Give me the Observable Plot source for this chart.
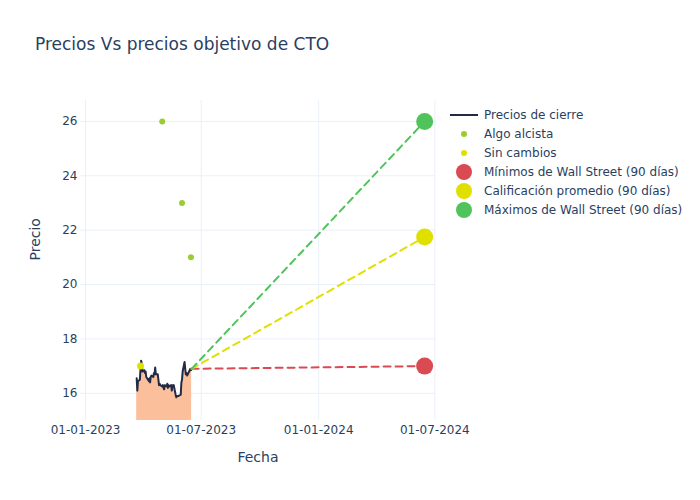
<!DOCTYPE html>
<html>
<head>
<meta charset="utf-8">
<script src="https://cdn.jsdelivr.net/npm/d3@7"></script>
<script src="https://cdn.jsdelivr.net/npm/@observablehq/plot@0.6"></script>
<style>
  html, body { margin: 0; padding: 0; background: #fff; }
  body { width: 700px; height: 500px; overflow: hidden; font-family: "DejaVu Sans", Verdana, sans-serif; color: #2a3f5f; }
  #wrap { position: relative; width: 700px; height: 500px; }
  #title { position: absolute; left: 35px; top: 34px; font-size: 17px; color: #2a3f5f; white-space: nowrap; }
  #legend { position: absolute; left: 450px; top: 105px; font-size: 12px; color: #2a3f5f; }
  .item { height: 19px; display: flex; align-items: center; white-space: nowrap; }
  .sym { width: 28px; height: 19px; margin-right: 6px; display: flex; align-items: center; justify-content: center; }
  .dot { border-radius: 50%; }
</style>
</head>
<body>
<div id="wrap">
  <div id="title">Precios Vs precios objetivo de CTO</div>
  <div id="chart"></div>
  <div id="legend"></div>
</div>
<script>
// ---- Data ----
const priceDates = [
  "2023-03-22","2023-03-23","2023-03-24","2023-03-27","2023-03-28","2023-03-29","2023-03-30","2023-03-31",
  "2023-04-03","2023-04-04","2023-04-05","2023-04-06","2023-04-10","2023-04-11","2023-04-12","2023-04-13","2023-04-14",
  "2023-04-17","2023-04-18","2023-04-19","2023-04-20","2023-04-21","2023-04-24","2023-04-25","2023-04-26","2023-04-27","2023-04-28",
  "2023-05-01","2023-05-02","2023-05-03","2023-05-04","2023-05-05","2023-05-08","2023-05-09","2023-05-10","2023-05-11","2023-05-12",
  "2023-05-15","2023-05-16","2023-05-17","2023-05-18","2023-05-19","2023-05-22","2023-05-23","2023-05-24","2023-05-25","2023-05-26",
  "2023-05-30","2023-05-31","2023-06-01","2023-06-02","2023-06-05","2023-06-06","2023-06-07","2023-06-08","2023-06-09",
  "2023-06-12","2023-06-13","2023-06-14","2023-06-15","2023-06-16"
];
const priceClose = [
  16.55,16.10,16.45,16.50,16.90,17.20,17.10,16.80,
  16.85,16.75,16.80,16.60,16.45,16.55,16.40,16.60,16.65,
  16.60,16.75,16.70,16.95,16.70,16.70,16.50,16.30,16.35,16.30,
  16.25,16.30,16.20,16.15,16.30,16.25,16.35,16.20,16.30,16.25,
  16.30,16.10,16.30,16.25,16.30,15.95,15.85,15.90,15.90,15.90,
  15.95,16.40,16.50,16.80,17.15,16.90,16.70,16.75,16.65,
  16.80,16.85,16.90,16.85,16.90
];
const alcistaDates = ["2023-05-01","2023-06-01","2023-06-15"];
const alcistaValues = [26.0, 23.0, 21.0];
const sinCambiosDates = ["2023-03-28"];
const sinCambiosValues = [17.0];
const targetDate = "2024-06-15";
const targetNames = ["Mínimos de Wall Street (90 días)", "Calificación promedio (90 días)", "Máximos de Wall Street (90 días)"];
const targetValues = [17.0, 21.75, 26.0];
const targetColors = ["#d94a52", "#dfe000", "#50c45a"];
const xTicks = ["2023-01-01","2023-07-01","2024-01-01","2024-07-01"];
const yTicks = [16, 18, 20, 22, 24, 26];
const xDomain = ["2022-12-24","2024-07-02"];
const yDomain = [15.0, 26.77];

// ---- Build tables ----
const parse = d3.utcParse("%Y-%m-%d");
const prices = priceDates.map((d, i) => ({date: parse(d), close: priceClose[i]}));
const alcista = alcistaDates.map((d, i) => ({date: parse(d), value: alcistaValues[i]}));
const sinCambios = sinCambiosDates.map((d, i) => ({date: parse(d), value: sinCambiosValues[i]}));
const last = prices[prices.length - 1];
const targets = targetValues.map((v, i) => ({name: targetNames[i], date: parse(targetDate), value: v, color: targetColors[i]}));
const segments = targets.flatMap(t => [
  {name: t.name, date: last.date, value: last.close, color: t.color},
  {name: t.name, date: t.date, value: t.value, color: t.color}
]);

const font = "DejaVu Sans, Verdana, sans-serif";
const chart = Plot.plot({
  width: 700,
  height: 500,
  marginLeft: 80,
  marginRight: 265,
  marginTop: 100,
  marginBottom: 80,
  style: {fontFamily: font, fontSize: "12px", color: "#2a3f5f", background: "white"},
  x: {type: "utc", domain: xDomain.map(parse)},
  y: {domain: yDomain},
  marks: [
    Plot.ruleY(yTicks, {stroke: "#ebf0f8", strokeWidth: 1}),
    Plot.ruleX(xTicks.map(parse), {stroke: "#ebf0f8", strokeWidth: 1}),
    Plot.areaY(prices, {x: "date", y: "close", fill: "#fcbf9b", clip: true}),
    Plot.line(prices, {x: "date", y: "close", stroke: "#222b45", strokeWidth: 2}),
    Plot.line(segments, {x: "date", y: "value", z: "name", stroke: "color", strokeWidth: 2, strokeDasharray: "7,5"}),
    Plot.dot(alcista, {x: "date", y: "value", r: 3, fill: "#9acd32"}),
    Plot.dot(sinCambios, {x: "date", y: "value", r: 3.5, fill: "#dfe000"}),
    Plot.dot(targets, {x: "date", y: "value", r: 8.5, fill: "color"}),
    Plot.axisX(xTicks.map(parse), {tickSize: 0, tickPadding: 5, tickFormat: d3.utcFormat("%d-%m-%Y"), label: null, fill: "#2a3f5f"}),
    Plot.axisY(yTicks, {tickSize: 0, tickPadding: 3, label: null, fill: "#2a3f5f"}),
    Plot.text(["Fecha"], {frameAnchor: "bottom", dy: 37, fontSize: 14, fill: "#2a3f5f", lineAnchor: "middle"}),
    Plot.text(["Precio"], {frameAnchor: "left", dx: -45, rotate: -90, fontSize: 14, fill: "#2a3f5f", lineAnchor: "middle"})
  ]
});
document.getElementById("chart").appendChild(chart);

// ---- Legend ----
const legendItems = [
  {label: "Precios de cierre", type: "line", color: "#222b45"},
  {label: "Algo alcista", type: "dot", color: "#9acd32", r: 3},
  {label: "Sin cambios", type: "dot", color: "#dfe000", r: 3},
  ...targets.map(t => ({label: t.name, type: "dot", color: t.color, r: 8}))
];
const legend = document.getElementById("legend");
for (const it of legendItems) {
  const row = document.createElement("div");
  row.className = "item";
  const sym = document.createElement("div");
  sym.className = "sym";
  const s = document.createElement("div");
  if (it.type === "line") {
    s.style.width = "28px"; s.style.height = "2px"; s.style.background = it.color;
  } else {
    s.className = "dot";
    s.style.width = (2 * it.r) + "px"; s.style.height = (2 * it.r) + "px"; s.style.background = it.color;
  }
  sym.appendChild(s);
  row.appendChild(sym);
  const t = document.createElement("span");
  t.textContent = it.label;
  row.appendChild(t);
  legend.appendChild(row);
}
</script>
</body>
</html>
